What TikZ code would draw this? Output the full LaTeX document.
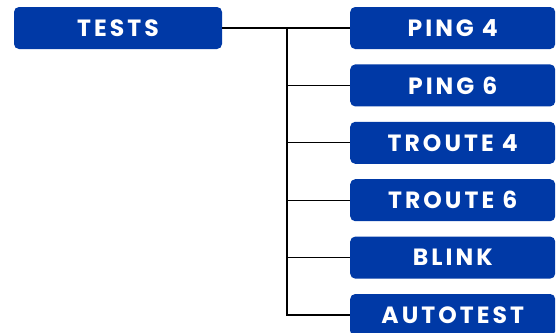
\documentclass[tikz,border=0pt]{standalone}
\usepackage{fontspec}
\setmainfont{Poppins}
\usetikzlibrary{positioning}
\definecolor{testblue}{RGB}{0,57,166}
\newcommand\testtextstyle{\fontsize{23.5}{23.5}\selectfont\bfseries\addfontfeature{LetterSpace=13}}
\newcommand\testboxheight{42}
\newcommand\testboxgap{57.4}
\newcommand\spinex{287}
\tikzset{
  testbox/.style={fill=testblue, rounded corners=5pt, text=white,
    minimum height=\testboxheight pt, inner sep=0pt, font=\testtextstyle},
  rootbox/.style={testbox, minimum width=208pt},
  leafbox/.style={testbox, minimum width=205pt, anchor=west},
  treeline/.style={line width=1.3pt, black}
}

\begin{document}
\begin{tikzpicture}[x=1pt, y=-1pt]
    \useasboundingbox (0, 0) rectangle (556, 332) ;
    \clip (0, 0) rectangle (556, 332) ;
    % root
    \node[rootbox] (tests) at (118, 28) {TESTS} ;
    \coordinate (spine) at (\spinex, 28) ;
    % leaves
    \foreach \name/\label [count=\i from 0] in {ping4/PING 4, ping6/PING 6,
        troute4/TROUTE 4, troute6/TROUTE 6, blink/BLINK, autotest/AUTOTEST}
      \node[leafbox] (\name) at (350, 28 + \i * \testboxgap) {\label} ;
    % connectors
    \draw[treeline] (tests.east) -- (spine) -- (spine |- autotest.west) -- (autotest.west) ;
    \foreach \name in {ping4, ping6, troute4, troute6, blink}
      \draw[treeline] (spine |- \name.west) -- (\name.west) ;
\end{tikzpicture}
\end{document}
